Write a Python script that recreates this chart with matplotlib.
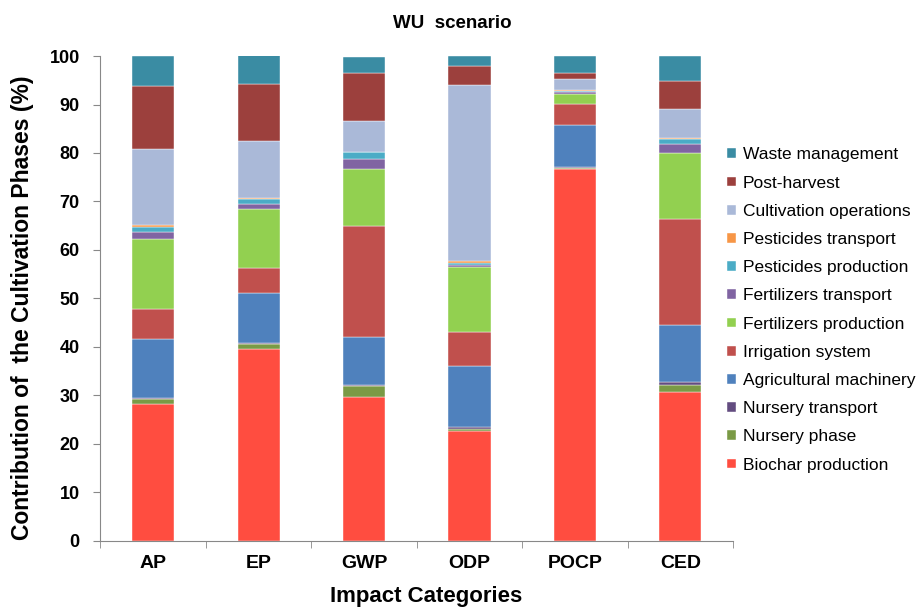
import numpy as np
import matplotlib
matplotlib.use("Agg")
import matplotlib.pyplot as plt

plt.rcParams['font.family'] = ['Liberation Sans', 'DejaVu Sans']

categories = ["AP", "EP", "GWP", "ODP", "POCP", "CED"]

phases = ["Biochar production", "Nursery phase", "Nursery transport",
          "Agricultural machinery", "Irrigation system", "Fertilizers production",
          "Fertilizers transport", "Pesticides production", "Pesticides transport",
          "Cultivation operations", "Post-harvest", "Waste management"]

biochar      = [28.3, 39.6, 29.7, 22.7, 76.7, 30.7]
nursery      = [0.9, 1.0, 2.2, 0.4, 0.3, 1.5]
nursery_tr   = [0.3, 0.2, 0.2, 0.3, 0.1, 0.5]
machinery    = [12.1, 10.3, 10.0, 12.7, 8.7, 11.8]
irrigation   = [6.2, 5.2, 22.8, 7.0, 4.3, 21.8]
fert_prod    = [14.4, 12.1, 11.8, 13.3, 2.0, 13.6]
fert_tr      = [1.4, 1.1, 2.0, 0.5, 0.5, 2.0]
pest_prod    = [1.2, 1.1, 1.5, 0.5, 0.2, 1.0]
pest_tr      = [0.4, 0.1, 0.1, 0.3, 0.1, 0.1]
cultivation  = [15.6, 11.7, 6.4, 36.3, 2.4, 6.1]
post_harvest = [13.0, 11.8, 9.9, 4.0, 1.2, 5.7]
waste        = [6.2, 6.0, 3.2, 2.0, 3.5, 5.2]

series = [biochar, nursery, nursery_tr, machinery, irrigation, fert_prod,
          fert_tr, pest_prod, pest_tr, cultivation, post_harvest, waste]

colors = ["#FF4D40", "#7A9A45", "#634C80", "#4F81BD", "#C0504D", "#92D050",
          "#8064A2", "#4BACC6", "#F79646", "#AAB9D8", "#9C403D", "#3A8CA3"]

fig = plt.figure(figsize=(9.22, 6.09), dpi=100)
ax = fig.add_axes([0.109, 0.112, 0.686, 0.796])

x = np.arange(len(categories))
bottom = np.zeros(len(categories))
handles = []
for vals, name, c in zip(series, phases, colors):
    b = ax.bar(x, vals, 0.4, bottom=bottom, color=c, label=name,
               edgecolor="white", linewidth=0.3)
    handles.append(b)
    bottom += np.array(vals)

ax.set_xlim(-0.5, len(categories) - 0.5)
ax.set_ylim(0, 100)
ax.set_yticks(range(0, 101, 10))
ax.set_xticks(x)
ax.set_xticklabels(categories, fontsize=14, fontweight="bold")
ax.set_xticks(np.arange(-0.5, len(categories), 1), minor=True)
ax.tick_params(axis="x", which="major", length=0, pad=10)
ax.tick_params(axis="x", which="minor", length=5, color="#888888")
ax.tick_params(axis="y", length=5, color="#888888", labelsize=13, pad=10)
for lbl in ax.get_yticklabels():
    lbl.set_fontweight("bold")

for s in ["top", "right"]:
    ax.spines[s].set_visible(False)
for s in ["left", "bottom"]:
    ax.spines[s].set_color("#888888")

fig.text(0.491, 0.962, "WU  scenario", fontsize=13.5, fontweight="bold",
         ha="center", va="center")
ax.set_ylabel("Contribution of  the Cultivation Phases (%)", fontsize=16.5,
              fontweight="bold")
ax.yaxis.set_label_coords(-0.105, 0.48)
ax.set_xlabel("Impact Categories", fontsize=16, fontweight="bold")
ax.xaxis.set_label_coords(0.515, -0.094)

leg = ax.legend(handles[::-1], phases[::-1], loc="center left",
                bbox_to_anchor=(0.98, 0.476), frameon=False, fontsize=12.5,
                handlelength=0.5, handleheight=0.5, handletextpad=0.4,
                labelspacing=0.76, borderaxespad=0)

fig.savefig("out.png", dpi=100)
